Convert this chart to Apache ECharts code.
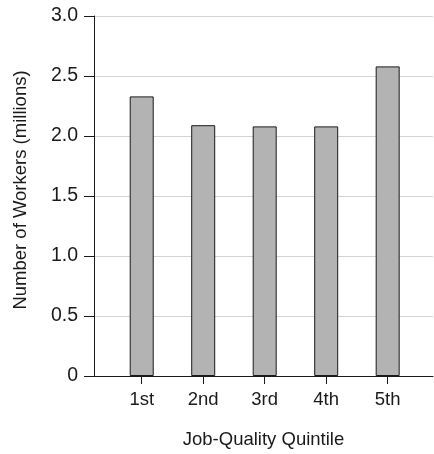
<!DOCTYPE html>
<html>
<head>
<meta charset="utf-8">
<script src="https://cdn.jsdelivr.net/npm/echarts@6/dist/echarts.min.js"></script>
<style>
html,body{margin:0;padding:0;background:#fff;}
#chart{width:434px;height:454px;}
</style>
</head>
<body>
<div id="chart"></div>
<script>
var categories = ['1st', '2nd', '3rd', '4th', '5th'];
var workers = [2.33, 2.09, 2.08, 2.08, 2.58];
var yTickValues = [0, 0.5, 1.0, 1.5, 2.0, 2.5, 3.0];
var yTickLabels = ['0', '0.5', '1.0', '1.5', '2.0', '2.5', '3.0'];
var xTitle = 'Job-Quality Quintile';
var yTitle = 'Number of Workers (millions)';

var positions = categories.map(function (c, i) { return i + 1; });
var font = 'Liberation Sans, Arial, Helvetica, sans-serif';

var chart = echarts.init(document.getElementById('chart'), null, {renderer: 'canvas'});
chart.setOption({
  animation: false,
  backgroundColor: '#ffffff',
  grid: {left: 94, right: 1, top: 16, bottom: 76, containLabel: false},
  xAxis: {
    type: 'value',
    min: 0.224,
    max: 5.737,
    name: xTitle,
    nameLocation: 'middle',
    nameGap: 54,
    nameTextStyle: {fontFamily: font, fontSize: 18.5, color: '#1a1a1a'},
    axisLine: {show: true, lineStyle: {color: '#1a1a1a', width: 1}},
    axisTick: {show: true, length: 8, customValues: positions, lineStyle: {color: '#1a1a1a'}},
    axisLabel: {
      show: true,
      customValues: positions,
      margin: 14,
      fontFamily: font, fontSize: 18.5, color: '#1a1a1a',
      formatter: function (v) { return categories[Math.round(v) - 1] || ''; }
    },
    splitLine: {show: false}
  },
  yAxis: {
    type: 'value',
    min: 0,
    max: 3,
    interval: 0.5,
    name: yTitle,
    nameLocation: 'middle',
    nameGap: 64,
    nameTextStyle: {fontFamily: font, fontSize: 18.5, color: '#1a1a1a', padding: [0, 0, 0, 12]},
    axisLine: {show: true, lineStyle: {color: '#1a1a1a', width: 1}},
    axisTick: {show: true, length: 10, lineStyle: {color: '#1a1a1a'}},
    axisLabel: {
      margin: 16,
      fontFamily: font, fontSize: 19.5, color: '#1a1a1a',
      formatter: function (v) {
        var idx = yTickValues.findIndex(function (t) { return Math.abs(t - v) < 1e-9; });
        return idx >= 0 ? yTickLabels[idx] : '';
      }
    },
    splitLine: {show: true, lineStyle: {color: '#d4d4d4', width: 1}}
  },
  series: [{
    type: 'bar',
    barWidth: 24,
    data: positions.map(function (p, i) { return [p, workers[i]]; }),
    itemStyle: {color: '#b3b3b3', borderColor: '#1a1a1a', borderWidth: 1}
  }]
});
</script>
</body>
</html>
